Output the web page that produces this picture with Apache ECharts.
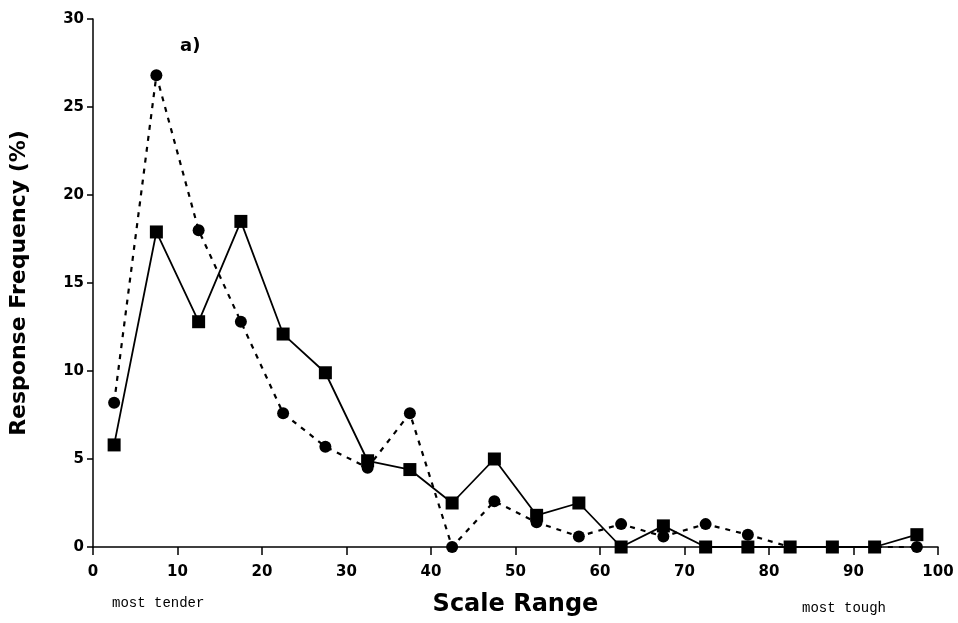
<!DOCTYPE html>
<html>
<head>
<meta charset="utf-8">
<script src="https://cdn.jsdelivr.net/npm/echarts@6/dist/echarts.min.js"></script>
<style>html,body{margin:0;padding:0;background:#fff;}#c{width:958px;height:623px;}</style>
</head>
<body>
<div id="c"></div>
<script>
var scalePoints = [2.5, 7.5, 12.5, 17.5, 22.5, 27.5, 32.5, 37.5, 42.5, 47.5, 52.5, 57.5, 62.5, 67.5, 72.5, 77.5, 82.5, 87.5, 92.5, 97.5];
var squareSeries = [5.8, 17.9, 12.8, 18.5, 12.1, 9.9, 4.9, 4.4, 2.5, 5.0, 1.8, 2.5, 0, 1.2, 0, 0, 0, 0, 0, 0.7];
var circleSeries = [8.2, 26.8, 18.0, 12.8, 7.6, 5.7, 4.5, 7.6, 0, 2.6, 1.4, 0.6, 1.3, 0.6, 1.3, 0.7, 0, 0, 0, 0];
var xTicks = [0, 10, 20, 30, 40, 50, 60, 70, 80, 90, 100];
var yTicks = [0, 5, 10, 15, 20, 25, 30];

function pairs(xs, ys) { return xs.map(function (x, i) { return [x, ys[i]]; }); }

var chart = echarts.init(document.getElementById('c'), null, { renderer: 'canvas' });
var axisFont = { color: '#000', fontFamily: 'DejaVu Sans', fontWeight: 'bold', fontSize: 15 };
chart.setOption({
  backgroundColor: '#fff',
  animation: false,
  grid: { left: 93, right: 20, top: 19, bottom: 76, containLabel: false, outerBoundsMode: 'none' },
  xAxis: {
    type: 'value', min: xTicks[0], max: xTicks[xTicks.length - 1], interval: 10,
    name: 'Scale Range', nameLocation: 'middle', nameGap: 46,
    nameTextStyle: { color: '#000', fontFamily: 'DejaVu Sans', fontWeight: 'bold', fontSize: 24 },
    axisLine: { show: true, onZero: false, lineStyle: { color: '#000', width: 1.5 } },
    axisTick: { show: true, inside: false, length: 8, lineStyle: { color: '#000', width: 1.5 } },
    axisLabel: Object.assign({ margin: 18 }, axisFont),
    splitLine: { show: false }
  },
  yAxis: {
    type: 'value', min: yTicks[0], max: yTicks[yTicks.length - 1], interval: 5,
    name: 'Response Frequency (%)', nameLocation: 'middle', nameGap: 63, nameRotate: 90,
    nameTextStyle: { color: '#000', fontFamily: 'DejaVu Sans', fontWeight: 'bold', fontSize: 22 },
    axisLine: { show: true, lineStyle: { color: '#000', width: 1.5 } },
    axisTick: { show: true, inside: false, length: 6, lineStyle: { color: '#000', width: 1.5 } },
    axisLabel: Object.assign({ margin: 9 }, axisFont),
    splitLine: { show: false }
  },
  graphic: [
    { type: 'text', left: 180, top: 37, style: { text: 'a)', fill: '#000', font: 'bold 18px "DejaVu Sans"' } },
    { type: 'text', left: 112, top: 596, style: { text: 'most tender', fill: '#000', font: '14px "Liberation Mono"' } },
    { type: 'text', left: 802, top: 601, style: { text: 'most tough', fill: '#000', font: '14px "Liberation Mono"' } }
  ],
  series: [
    {
      type: 'line', name: 'circles', data: pairs(scalePoints, circleSeries),
      symbol: 'circle', symbolSize: 12,
      lineStyle: { color: '#000', width: 2.2, type: [5, 6] },
      itemStyle: { color: '#000' }, z: 2
    },
    {
      type: 'line', name: 'squares', data: pairs(scalePoints, squareSeries),
      symbol: 'rect', symbolSize: 13,
      lineStyle: { color: '#000', width: 1.8, type: 'solid' },
      itemStyle: { color: '#000' }, z: 3
    }
  ]
});
</script>
</body>
</html>
